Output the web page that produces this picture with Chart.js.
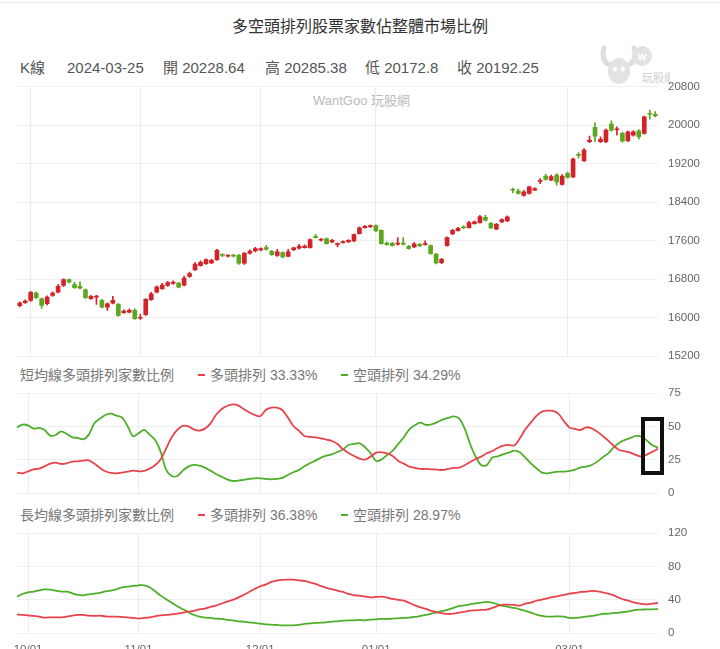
<!DOCTYPE html>
<html>
<head>
<meta charset="utf-8">
<script src="https://cdn.jsdelivr.net/npm/chart.js@4.4.1/dist/chart.umd.min.js"></script>
<style>
  body { margin: 0; width: 720px; height: 649px; overflow: hidden; background: #fff; position: relative;
         font-family: "Liberation Sans", "Noto Sans CJK TC", sans-serif; }
  .abs { position: absolute; white-space: nowrap; }
  .info { top: 59px; font-size: 15px; line-height: 18px; color: #555; }
  .ptitle { font-size: 14px; line-height: 16px; color: #777; }
  .dash { position: absolute; width: 7px; height: 2px; }
  canvas { position: absolute; left: 0; }
</style>
</head>
<body>
<div class="abs" style="left:0;top:2px;width:720px;height:1px;background:#e8e8e8"></div>
<div class="abs" style="left:0;top:17px;width:720px;text-align:center;font-size:16px;line-height:20px;color:#333">多空頭排列股票家數佔整體市場比例</div>

<div class="abs info" style="left:20px">K線</div>
<div class="abs info" style="left:67px">2024-03-25</div>
<div class="abs info" style="left:163px">開 20228.64</div>
<div class="abs info" style="left:265px">高 20285.38</div>
<div class="abs info" style="left:365px">低 20172.8</div>
<div class="abs info" style="left:457px">收 20192.25</div>

<svg class="abs" style="left:598px;top:42px" width="72" height="46">
  <path d="M6 6 Q2 20 14 24" stroke="#dedede" stroke-width="5" fill="none" stroke-linecap="round"/>
  <path d="M36 6 Q40 20 28 24" stroke="#dedede" stroke-width="5" fill="none" stroke-linecap="round"/>
  <ellipse cx="21" cy="29" rx="11" ry="13" fill="#e3e3e3"/>
  <ellipse cx="17" cy="27" rx="2" ry="2.5" fill="#fff"/>
  <ellipse cx="25" cy="27" rx="2" ry="2.5" fill="#fff"/>
  <circle cx="44" cy="14" r="10" fill="#e3e3e3"/>
  <text x="44" y="18" font-size="11" fill="#fff" text-anchor="middle" font-weight="bold">w</text>
  <text x="44" y="40" font-size="11" fill="#cfcfcf">玩股網</text>
</svg>

<div class="abs" style="left:313px;top:93px;font-size:13px;line-height:16px;color:#bbb">WantGoo 玩股網</div>

<div class="abs ptitle" style="left:20px;top:367px">短均線多頭排列家數比例</div>
<div class="dash" style="left:198px;top:374px;background:#e8434b"></div>
<div class="abs ptitle" style="left:210px;top:367px">多頭排列 33.33%</div>
<div class="dash" style="left:341px;top:374px;background:#4fae2a"></div>
<div class="abs ptitle" style="left:353px;top:367px">空頭排列 34.29%</div>

<div class="abs ptitle" style="left:20px;top:507px">長均線多頭排列家數比例</div>
<div class="dash" style="left:198px;top:514px;background:#e8434b"></div>
<div class="abs ptitle" style="left:210px;top:507px">多頭排列 36.38%</div>
<div class="dash" style="left:341px;top:514px;background:#4fae2a"></div>
<div class="abs ptitle" style="left:353px;top:507px">空頭排列 28.97%</div>

<canvas id="kline" width="720" height="300" style="top:70px"></canvas>
<canvas id="short" width="720" height="115" style="top:385px"></canvas>
<canvas id="long" width="720" height="140" style="top:525px"></canvas>

<div class="abs" style="left:641px;top:417px;width:23px;height:58px;border:4px solid #111;box-sizing:border-box"></div>

<script>
// trading days, 2023-09-27 .. 2024-03-25
var dates = [
  '09/27','09/28',
  '10/02','10/03','10/04','10/05','10/06','10/11','10/12','10/13','10/16','10/17','10/18','10/19','10/20','10/23','10/24','10/25','10/26','10/27','10/30','10/31',
  '11/01','11/02','11/03','11/06','11/07','11/08','11/09','11/10','11/13','11/14','11/15','11/16','11/17','11/20','11/21','11/22','11/23','11/24','11/27','11/28','11/29','11/30',
  '12/01','12/04','12/05','12/06','12/07','12/08','12/11','12/12','12/13','12/14','12/15','12/18','12/19','12/20','12/21','12/22','12/25','12/26','12/27','12/28','12/29',
  '01/02','01/03','01/04','01/05','01/08','01/09','01/10','01/11','01/12','01/15','01/16','01/17','01/18','01/19','01/22','01/23','01/24','01/25','01/26','01/29','01/30','01/31',
  '02/01','02/02','02/05','02/15','02/16','02/19','02/20','02/21','02/22','02/23','02/26','02/27','02/29',
  '03/01','03/04','03/05','03/06','03/07','03/08','03/11','03/12','03/13','03/14','03/15','03/18','03/19','03/20','03/21','03/22','03/25'
];

var open = [16251,16313,16361,16513,16396,16292,16465,16534,16673,16792,
  16690,16652,16583,16396,16430,16361,16222,16305,16278,16105,
  16117,16153,15990,16063,16376,16534,16604,16673,16715,16722,
  16680,16860,16996,17080,17125,17138,17208,17305,17280,17290,
  17298,17132,17340,17388,17408,17458,17382,17298,17354,17277,
  17416,17444,17458,17458,17694,17610,17645,17575,17520,17562,
  17583,17596,17749,17874,17894,17915,17818,17554,17548,17527,
  17554,17485,17472,17527,17520,17500,17325,17146,17500,17741,
  17811,17887,17874,17957,17978,18088,17964,17839,17991,18011,
  18660,18630,18540,18581,18650,18835,18942,18858,18962,18769,
  18998,18927,19380,19261,19656,19955,19656,19656,20024,19906,
  19830,19677,19795,19885,19830,20240,20228.64];
var high = [16330,16371,16548,16538,16413,16455,16538,16694,16809,16809,
  16736,16746,16600,16465,16465,16382,16309,16444,16299,16167,
  16188,16184,16070,16400,16527,16663,16715,16757,16767,16736,
  16867,16950,17148,17184,17225,17215,17423,17330,17310,17320,
  17319,17361,17413,17465,17455,17506,17402,17423,17371,17423,
  17465,17527,17517,17641,17735,17652,17662,17631,17555,17600,
  17627,17745,17891,17922,17932,17932,17828,17579,17569,17666,
  17666,17506,17560,17548,17596,17517,17340,17236,17683,17839,
  17880,17912,18005,18016,18130,18130,17985,17964,18057,18120,
  18690,18671,18640,18734,18703,18890,18983,18962,18994,18973,
  19025,19317,19430,19514,19774,20051,19760,19920,20093,19968,
  19857,19878,19889,19910,20190,20315,20285.38];
var low = [16226,16299,16340,16403,16195,16267,16444,16517,16652,16725,
  16611,16600,16403,16382,16278,16205,16153,16288,16028,16090,
  16101,15966,15966,16050,16361,16517,16590,16652,16694,16621,
  16663,16840,16986,17070,17110,17125,17194,17270,17260,17265,
  17111,17111,17320,17370,17390,17402,17298,17277,17246,17267,
  17395,17423,17444,17444,17652,17590,17527,17560,17471,17548,
  17560,17580,17735,17860,17870,17784,17527,17506,17485,17506,
  17506,17423,17455,17475,17506,17319,17121,17125,17485,17725,
  17797,17850,17860,17943,17964,18005,17850,17828,17975,17995,
  18600,18567,18525,18567,18640,18785,18858,18848,18754,18754,
  18900,18910,19315,19244,19639,19656,19639,19639,19878,19795,
  19649,19660,19774,19712,19816,20125,20172.8];
var close = [16305,16346,16527,16417,16257,16430,16513,16652,16792,16742,
  16628,16617,16417,16444,16440,16222,16292,16361,16049,16138,
  16153,15980,16001,16382,16500,16638,16679,16729,16742,16638,
  16825,16916,17118,17150,17208,17194,17402,17295,17288,17282,
  17132,17340,17388,17437,17437,17423,17313,17368,17263,17368,
  17451,17492,17492,17624,17666,17631,17541,17610,17534,17583,
  17610,17728,17866,17901,17915,17811,17541,17521,17500,17554,
  17527,17437,17534,17492,17541,17333,17138,17215,17666,17818,
  17860,17866,17978,17991,18103,18026,17866,17943,18041,18095,
  18650,18582,18615,18719,18686,18845,18873,18935,18823,18942,
  18915,19296,19372,19483,19691,19774,19705,19899,19899,19913,
  19670,19864,19864,19760,20176,20228,20192.25];

// 短均線 %
var shortBull = [15.5,15,16.5,18,18.5,20.25,22.25,23,22,22.5,
  23.75,24,24.5,24.75,22.25,19,16.5,15.25,15,15.5,
  16.25,17,16.5,16.75,18.5,21,25.5,33.75,42,47.5,
  50.5,50.25,48,47,48.5,52.25,58.75,63,65.5,66.75,
  66,63.25,60.75,58.75,57.75,62.5,64.25,64.25,62.5,57,
  50.5,47,43,42.25,42,41.25,40.25,39.25,37,33,
  30.25,28,26,25.25,27.5,30.5,30.75,30,28,24.25,
  22.25,20,19,18.25,18.25,18,17.75,17.5,18.25,19,
  19.25,21,23.5,25.75,27.5,30,31.75,34,35.75,36.25,
  36,41.25,48,53,58,61.25,62,61.75,59.5,54,
  49.25,48.25,47.5,49.5,48.75,46.25,43,39.5,35.5,32.5,
  31.5,30.5,28.75,27.5,29,31.25,33.33];
var shortBear = [49.5,51.5,51,48.5,49,47.5,43.25,43.75,46.5,44.5,
  42,41.5,40.5,44,52.5,56,58.75,59.75,58.25,57,
  50.5,42.75,45,47.5,44,40,31.25,17.5,13,13,
  17,20,21.25,20.75,19.25,17,14.5,12.5,10.5,9.25,
  9.5,10,10.75,11.25,11.25,10.75,10.5,10.75,11.5,13.75,
  15.75,17.5,20.25,22.5,24.5,26.75,28.25,29.25,31,33,
  36.25,37,37.5,34.5,30,24.25,25.5,28.75,32,37,
  42,48,51,53,51.25,51.75,53.25,55.25,56.5,57.75,
  56.25,48.75,37,27.5,21.25,21,26.75,27.75,29.25,30.5,
  32,30.75,26.75,22.5,18.75,15.5,15,15.75,16.25,16.25,
  16.75,17.75,19.5,20,21.25,23.75,27,30,34.5,38,
  40,41.5,43,42.5,39.5,36,34.29];

// 長均線 %
var longBull = [22.8,22,21.6,20.8,20,18.8,19.2,19.2,19.2,20,
  21.2,22,22,21.2,20.8,21.2,20.4,20,20,19.6,
  19.2,18.4,17.6,18.4,19.2,20.4,21.6,22,22.8,23.6,
  24.8,26,26.8,28.8,29.6,31.6,33.2,35.6,38,40,
  42.8,46,49.6,53.2,56.4,58.4,61.6,63.2,64,64.4,
  64.4,63.6,62.8,61.2,59.2,56.8,54.4,52.8,51.2,49.6,
  47.2,45.6,45.2,44,43.2,43.6,44,42.8,41.2,40,
  39.2,36.4,33.6,31.2,29.2,26.8,25.2,24,23.2,23.6,
  24.8,26,27.2,27.6,28,28.4,30.4,32.8,34.4,34.4,
  34,33.2,35.6,36.8,39.2,40.4,42,43.6,44.8,46,
  47.6,48.4,49.6,50,50.8,50.4,49.2,47.6,45.6,42.4,
  40,38.4,36.4,35.2,34.8,35.6,36.38];
var longBear = [44,47.2,49.2,50,51.6,52.8,52.4,51.2,50,50,
  48,46,45.6,46.8,47.6,48.4,50.4,51.2,52.8,55.2,
  56,56.8,57.6,57.6,55.2,50.4,45.2,40.8,36.8,32.4,
  28.8,25.6,22,20,18.8,18.4,17.6,17.2,16,15.6,
  14.4,14,13.2,12.4,11.6,10.8,10.4,10,9.6,9.6,
  9.6,10,11.2,12,12.4,12.8,13.2,14,14.4,15.2,
  15.6,15.6,16,15.6,16.4,16.8,17.2,17.2,17.6,18,
  18.4,18.8,19.6,20.8,22,23.6,25.2,26.8,28.4,30.4,
  32.8,33.6,34.8,36,36.8,37.6,36.8,34.8,32.8,31.6,
  30.4,28.8,26.8,24.8,22.4,20.8,20,20,20.4,20,
  18.4,18.4,19.2,20,20.8,22,23.2,23.6,24.4,24.8,
  25.6,26.8,28,28.4,28.8,28.8,28.97];

var xTickDates = ['10/02', '11/01', '12/01', '01/02', '03/01'];
var xTickLabels = ['10/01', '11/01', '12/01', '01/01', '03/01'];

var UP = '#d4222a', DOWN = '#5aa81e';
var LINE_RED = '#e8434b', LINE_GREEN = '#4fae2a';

Chart.defaults.font.family = '"Liberation Sans", "Noto Sans CJK TC", sans-serif';
Chart.defaults.animation = false;
Chart.defaults.plugins.legend.display = false;
Chart.defaults.plugins.tooltip.enabled = false;

var monthIdx = xTickDates.map(function (d) { return dates.indexOf(d); });

function xAxis(offset, showLabels) {
    return {
        type: 'category',
        offset: offset,
        grid: {
            offset: false,
            drawTicks: false,
            color: function (ctx) { return monthIdx.indexOf(ctx.index) >= 0 ? '#ececec' : 'rgba(0,0,0,0)'; }
        },
        border: {display: false},
        ticks: {
            display: showLabels,
            autoSkip: false,
            maxRotation: 0,
            padding: 10,
            color: '#666',
            font: {size: 11.5},
            callback: function (v, i) {
                var k = monthIdx.indexOf(i);
                return k >= 0 ? xTickLabels[k] : '';
            }
        },
        afterFit: function (s) {
            s.height = showLabels ? 20 : 0;
            s.paddingLeft = 0; s.paddingRight = 0;
        }
    };
}

function yAxis(min, max, step) {
    return {
        position: 'right',
        min: min, max: max,
        grid: {color: '#efefef', drawTicks: false},
        border: {display: false},
        ticks: {
            stepSize: step, color: '#666', font: {size: 11.5}, padding: 10,
            callback: function (v) { return String(v); }
        },
        afterFit: function (s) {
            s.width = 62;
            s.paddingTop = 0; s.paddingBottom = 0;
        }
    };
}

var candleColors = close.map(function (c, i) { return c >= open[i] ? UP : DOWN; });

new Chart(document.getElementById('kline'), {
    type: 'bar',
    data: {
        labels: dates,
        datasets: [{
            data: dates.map(function (_, i) { return [Math.min(open[i], close[i]), Math.max(open[i], close[i])]; }),
            backgroundColor: candleColors,
            barThickness: 4,
            minBarLength: 1,
            grouped: false,
            order: 0
        }, {
            data: dates.map(function (_, i) { return [low[i], high[i]]; }),
            backgroundColor: candleColors,
            barThickness: 1,
            grouped: false,
            order: 1
        }]
    },
    options: {
        responsive: false,
        layout: {padding: {left: 17, right: 0, top: 16.7, bottom: 13.7}},
        scales: {x: xAxis(true, false), y: yAxis(15200, 20800, 800)}
    }
});

function lineChart(id, bull, bear, max, step, showLabels, padBottom) {
    return new Chart(document.getElementById(id), {
        type: 'line',
        data: {
            labels: dates,
            datasets: [
                {data: bull, borderColor: LINE_RED, borderWidth: 1.8, pointRadius: 0, tension: 0.3, fill: false},
                {data: bear, borderColor: LINE_GREEN, borderWidth: 1.8, pointRadius: 0, tension: 0.3, fill: false}
            ]
        },
        options: {
            responsive: false,
            layout: {padding: {left: 17, right: 0, top: 8.3, bottom: padBottom}},
            scales: {x: xAxis(false, showLabels), y: yAxis(0, max, step)}
        }
    });
}

lineChart('short', shortBull, shortBear, 75, 25, false, 6.7);
lineChart('long', longBull, longBear, 120, 40, true, 11.7);
</script>
</body>
</html>
